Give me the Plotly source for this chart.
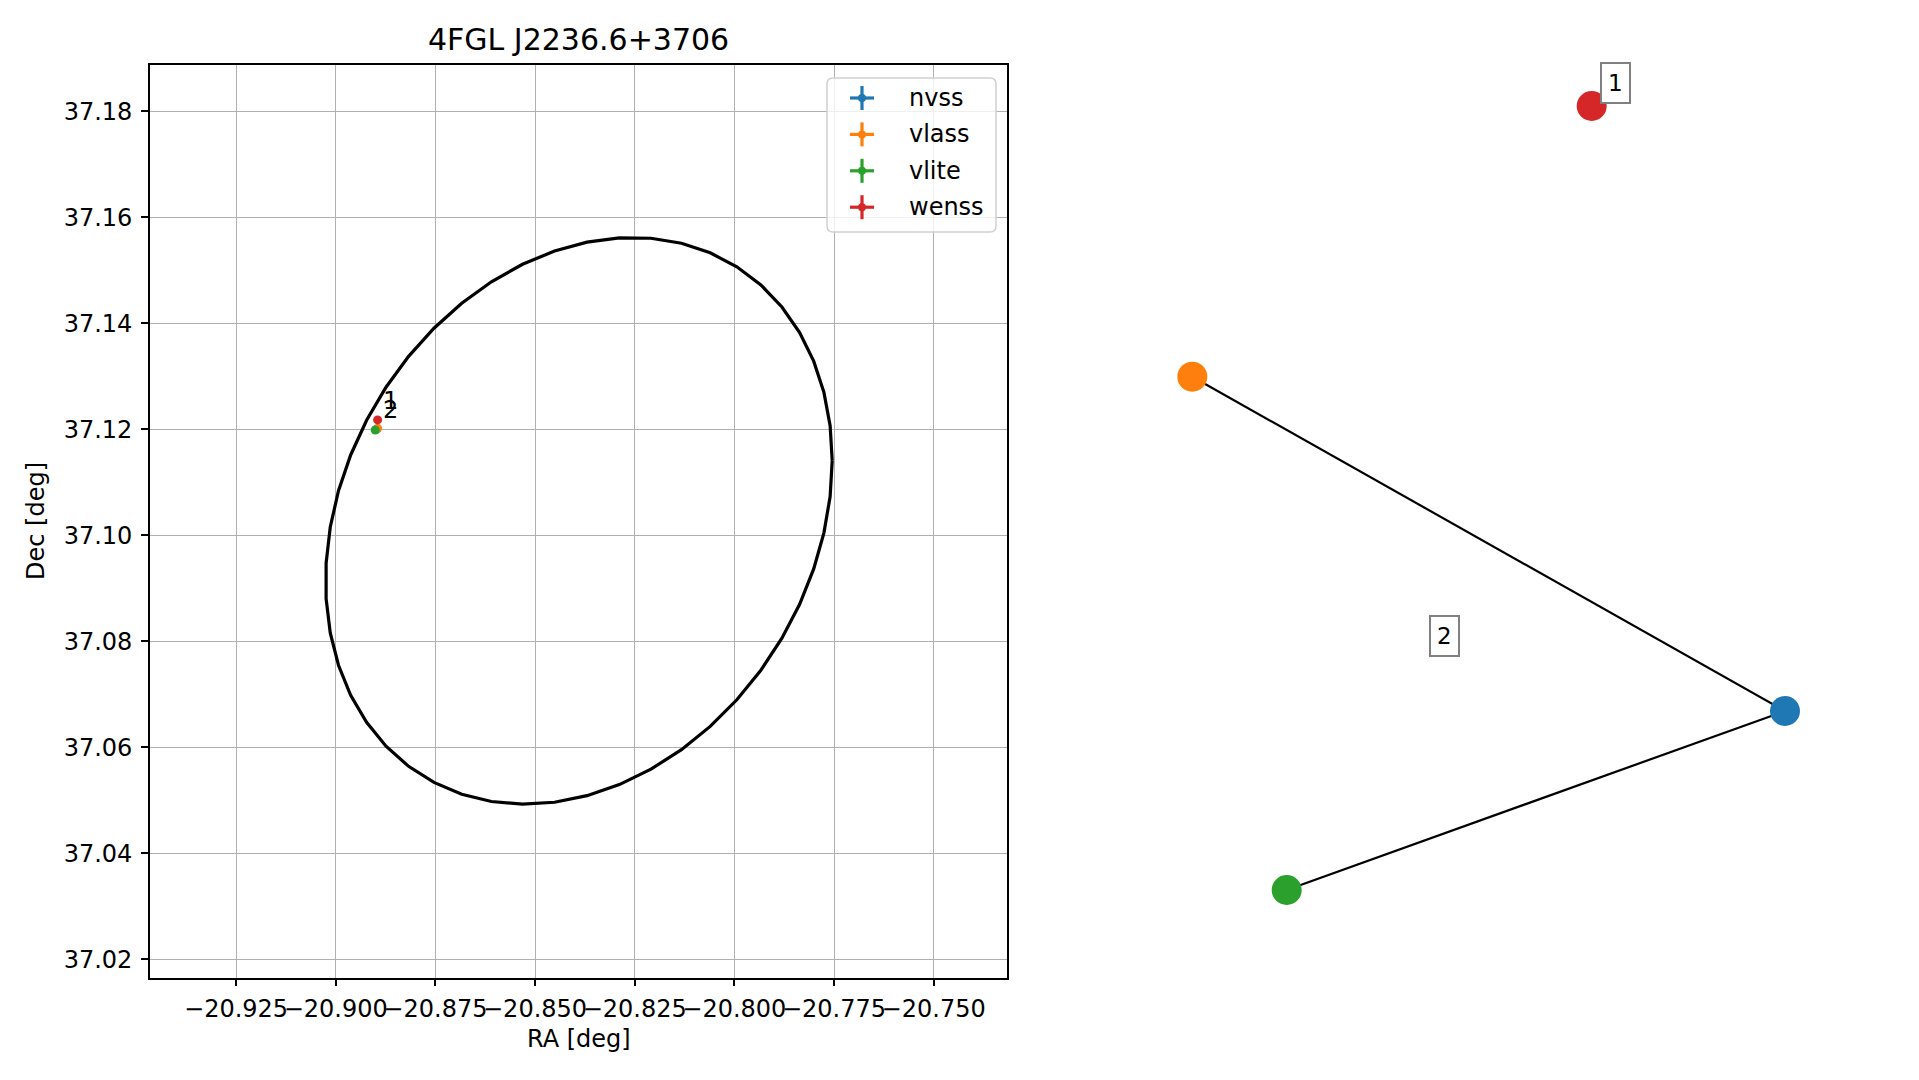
import numpy as np
import plotly.graph_objects as go

PAGE_W, PAGE_H = 1919, 1080
OFF = 8  # default body margin of the html page
W, H = PAGE_W - OFF, PAGE_H - OFF
FONT = "DejaVu Sans"

# ---------------- data ----------------
surveys = ["nvss", "vlass", "vlite", "wenss"]
colors = ["#1f77b4", "#ff7f0e", "#2ca02c", "#d62728"]
src_ra = [-20.8898, -20.8895, -20.8901, -20.8895]
src_dec = [37.1200, 37.1202, 37.1199, 37.1218]

cluster_labels = ["1", "2"]
cluster_label_ra = [-20.8863, -20.8862]
cluster_label_dec = [37.12536, 37.12366]

# 4FGL localisation ellipse parameters (RA/Dec, deg)
ell_center_ra = -20.8390
ell_center_dec = 37.10275
ell_ra_half = 0.06355          # half extent in RA
ell_dec_at_ra_edge = 0.01136   # Dec offset at the RA extreme
ell_dec_orth = 0.05224         # orthogonal Dec component
ell_npts = 50

x_ticks = [-20.925, -20.900, -20.875, -20.850, -20.825, -20.800, -20.775, -20.750]
y_ticks = [37.02, 37.04, 37.06, 37.08, 37.10, 37.12, 37.14, 37.16, 37.18]

# association graph (layout coordinates)
node_x = [1.0, -1.0, -0.6815, 0.3477]
node_y = [-0.5434, 0.3094, -1.0, 1.0]
edges = [("vlass", "nvss"), ("nvss", "vlite")]
group_labels = ["1", "2"]
group_label_x = [0.4274, -0.1483]
group_label_y = [1.0587, -0.3520]


def px(xp):
    return (xp - OFF) / W


def py(yp):
    return 1 - (yp - OFF) / H


fig = go.Figure()

# ellipse
t = np.linspace(0, 2 * np.pi, ell_npts)
ex = ell_center_ra + ell_ra_half * np.cos(t)
ey = ell_center_dec + ell_dec_at_ra_edge * np.cos(t) + ell_dec_orth * np.sin(t)
fig.add_trace(go.Scatter(x=ex, y=ey, mode="lines", line=dict(color="black", width=3.2),
                         showlegend=False, hoverinfo="skip", xaxis="x", yaxis="y"))

for name, c, r, d in zip(surveys, colors, src_ra, src_dec):
    fig.add_trace(go.Scatter(x=[r], y=[d], mode="markers", name=name,
                             marker=dict(color=c, size=9), showlegend=False,
                             xaxis="x", yaxis="y"))

annotations = []
for lab, r, d in zip(cluster_labels, cluster_label_ra, cluster_label_dec):
    annotations.append(dict(x=r, y=d, xref="x", yref="y", text=lab, showarrow=False,
                            xanchor="center", yanchor="middle",
                            font=dict(family=FONT, size=24, color="black")))

# graph panel
idx = {n: i for i, n in enumerate(surveys)}
for a, b in edges:
    fig.add_trace(go.Scatter(x=[node_x[idx[a]], node_x[idx[b]]],
                             y=[node_y[idx[a]], node_y[idx[b]]],
                             mode="lines", line=dict(color="black", width=2.2),
                             showlegend=False, hoverinfo="skip", xaxis="x2", yaxis="y2"))
for name, c, nx_, ny_ in zip(surveys, colors, node_x, node_y):
    fig.add_trace(go.Scatter(x=[nx_], y=[ny_], mode="markers", name=name,
                             marker=dict(color=c, size=30), showlegend=False,
                             xaxis="x2", yaxis="y2"))
for lab, gx, gy in zip(group_labels, group_label_x, group_label_y):
    annotations.append(dict(x=gx, y=gy, xref="x2", yref="y2", text=lab, showarrow=False,
                            xanchor="center", yanchor="middle",
                            bgcolor="white", bordercolor="#808080", borderwidth=2,
                            borderpad=6,
                            font=dict(family=FONT, size=23, color="black")))

# titles
annotations.append(dict(x=px(578.5), y=py(40), xref="paper", yref="paper",
                        text="4FGL J2236.6+3706", showarrow=False,
                        xanchor="center", yanchor="middle",
                        font=dict(family=FONT, size=30, color="black")))
annotations.append(dict(x=px(578.5), y=py(1039), xref="paper", yref="paper",
                        text="RA [deg]", showarrow=False,
                        xanchor="center", yanchor="middle",
                        font=dict(family=FONT, size=24, color="black")))
annotations.append(dict(x=px(36), y=py(521), xref="paper", yref="paper",
                        text="Dec [deg]", showarrow=False, textangle=-90,
                        xanchor="center", yanchor="middle",
                        font=dict(family=FONT, size=24, color="black")))

# manual legend
shapes = []
lx0, lx1, ly0, ly1 = 827, 996, 78, 232
rx, ry = 6 / W, 6 / H
x0, x1, y0, y1 = px(lx0), px(lx1), py(ly1), py(ly0)
path = (f"M {x0+rx},{y0} L {x1-rx},{y0} Q {x1},{y0} {x1},{y0+ry} L {x1},{y1-ry} "
        f"Q {x1},{y1} {x1-rx},{y1} L {x0+rx},{y1} Q {x0},{y1} {x0},{y1-ry} "
        f"L {x0},{y0+ry} Q {x0},{y0} {x0+rx},{y0} Z")
shapes.append(dict(type="path", path=path, xref="paper", yref="paper",
                   fillcolor="rgba(255,255,255,0.8)", line=dict(color="#d0d0d0", width=1.5)))
for i, (name, c) in enumerate(zip(surveys, colors)):
    cy = 98 + i * 36.4
    cx = 862
    shapes.append(dict(type="line", xref="paper", yref="paper",
                       x0=px(cx - 12), x1=px(cx + 12), y0=py(cy), y1=py(cy),
                       line=dict(color=c, width=3.2)))
    shapes.append(dict(type="line", xref="paper", yref="paper",
                       x0=px(cx), x1=px(cx), y0=py(cy - 12), y1=py(cy + 12),
                       line=dict(color=c, width=3.2)))
    shapes.append(dict(type="circle", xref="paper", yref="paper",
                       x0=px(cx - 4), x1=px(cx + 4), y0=py(cy + 4), y1=py(cy - 4),
                       fillcolor=c, line=dict(color=c, width=0)))
    annotations.append(dict(x=px(907), y=py(cy), xref="paper", yref="paper",
                            text=name, showarrow=False, xanchor="left", yanchor="middle",
                            font=dict(family=FONT, size=24, color="black")))

axis_common = dict(showline=True, linecolor="black", linewidth=1.6, mirror=True,
                   ticks="outside", ticklen=7, tickwidth=1.5, tickcolor="black",
                   showgrid=True, gridcolor="#b0b0b0", gridwidth=1.3,
                   zeroline=False, automargin=False,
                   tickfont=dict(family=FONT, size=24, color="black"))

fig.update_layout(
    width=W, height=H,
    margin=dict(l=0, r=0, t=0, b=0),
    paper_bgcolor="white", plot_bgcolor="white",
    showlegend=False,
    xaxis=dict(domain=[px(150), px(1007)], range=[-20.9466, -20.7316],
               tickmode="array", tickvals=x_ticks,
               ticktext=[f"{v:.3f}".replace("-", "\u2212") for v in x_ticks],
               tickangle=0, anchor="y", ticklabelstandoff=2, **axis_common),
    yaxis=dict(domain=[py(977.5), py(65)], range=[37.0166, 37.18875],
               tickmode="array", tickvals=y_ticks,
               ticktext=[f"{v:.2f}" for v in y_ticks],
               anchor="x", ticklabelstandoff=4, **axis_common),
    xaxis2=dict(domain=[px(1100), px(1880)], range=[-1.3115, 1.3206], visible=False,
                anchor="y2", automargin=False),
    yaxis2=dict(domain=[py(950), py(50)], range=[-1.1531, 1.1429], visible=False,
                anchor="x2", automargin=False),
    annotations=annotations,
    shapes=shapes,
)

fig.write_html("out.html")
